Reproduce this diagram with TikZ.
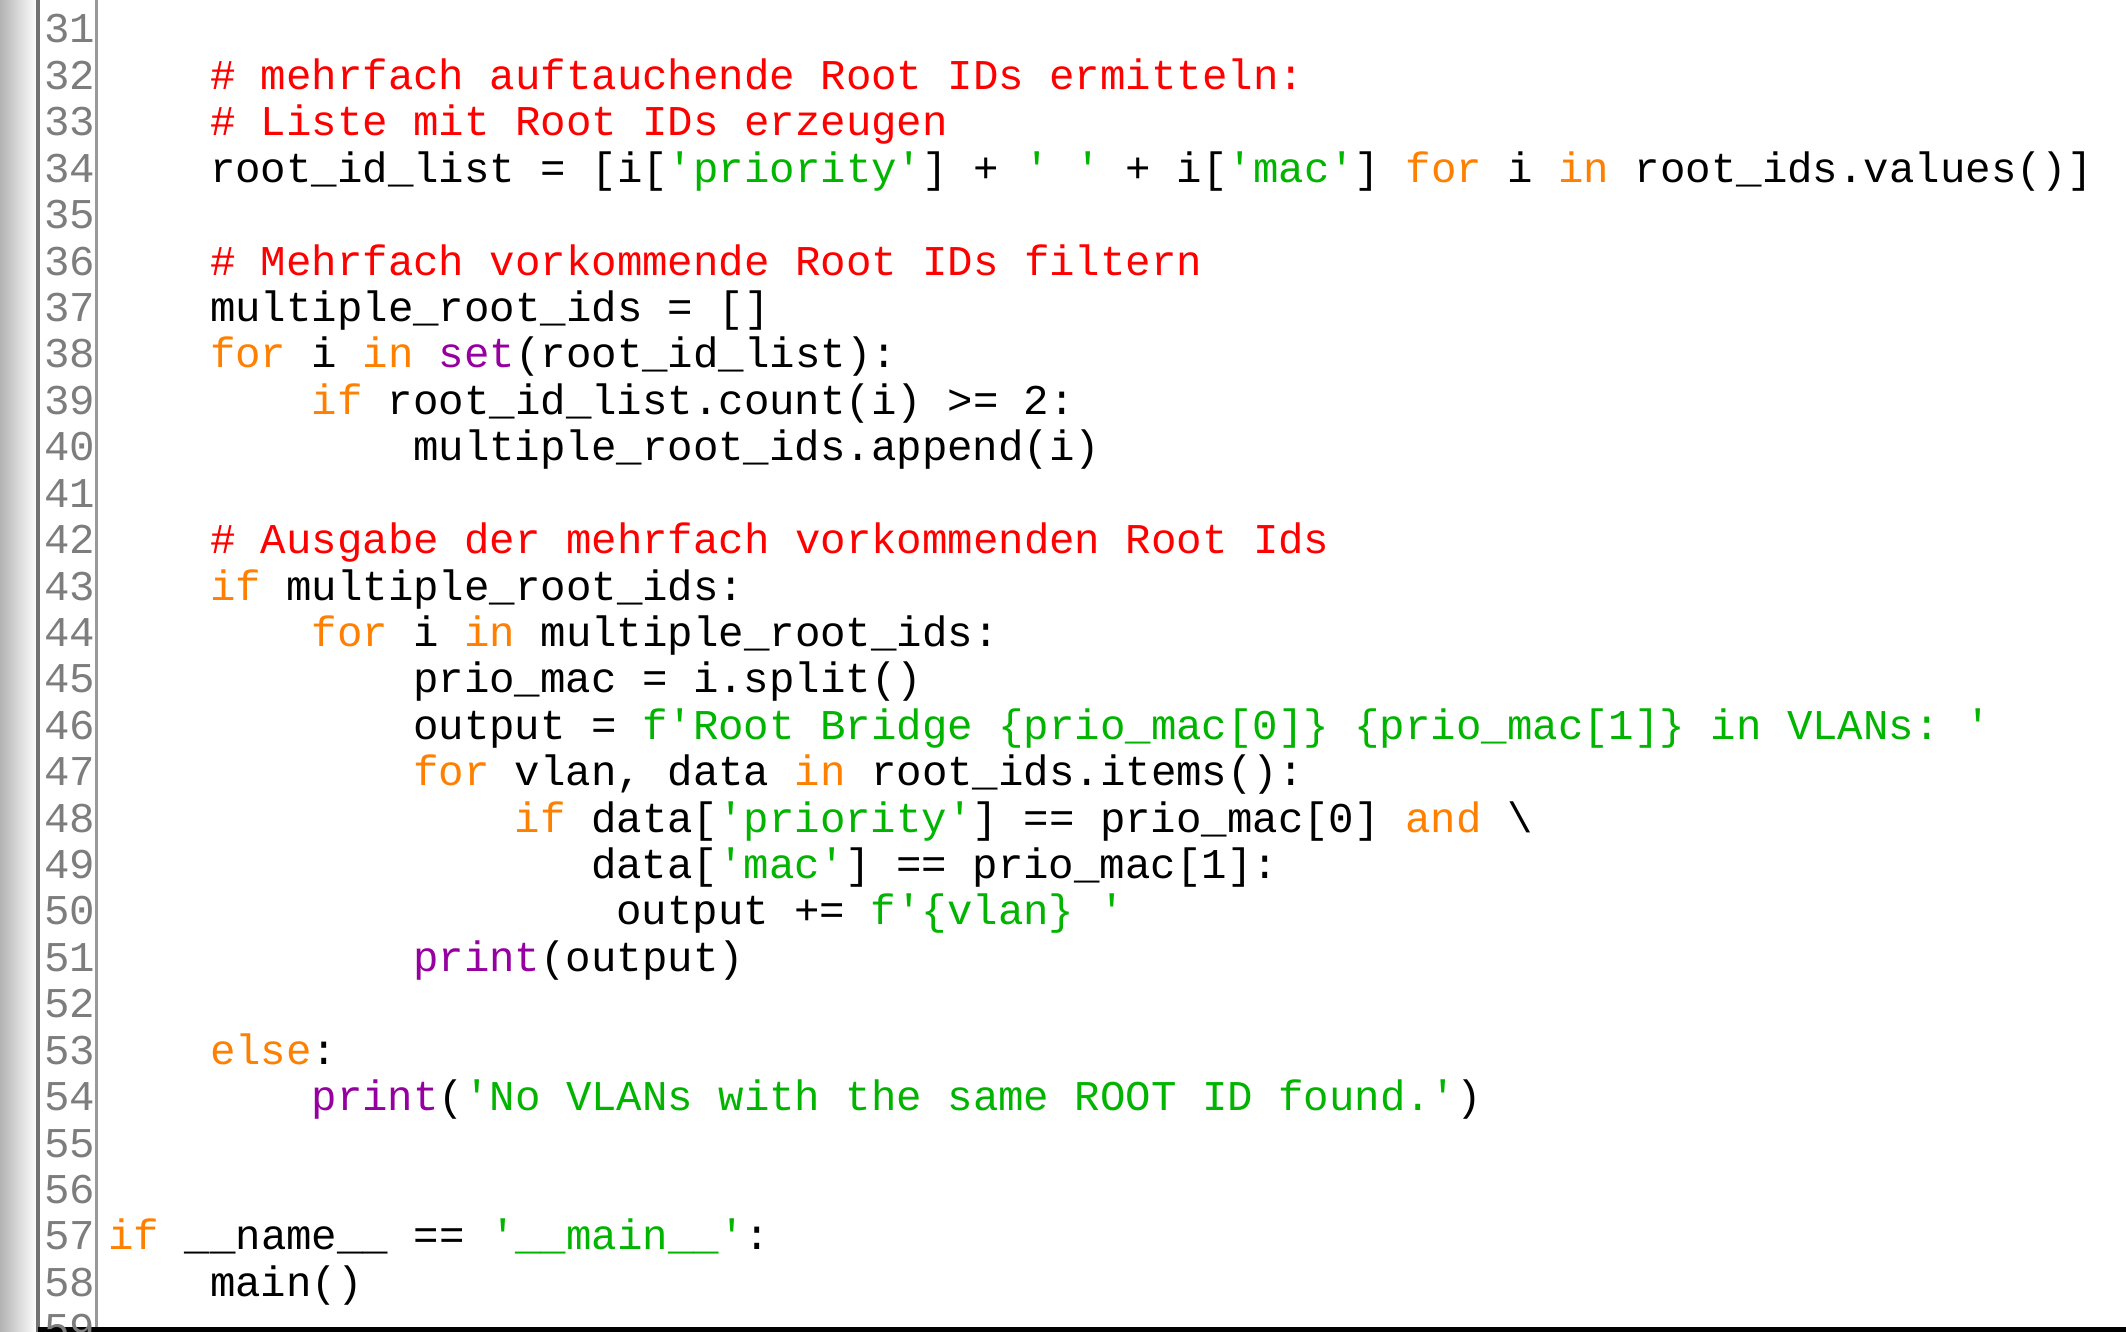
\documentclass[tikz,border=0pt]{standalone}
\usepackage{fontspec}
\setmonofont{Liberation Mono}
\usetikzlibrary{positioning}
\definecolor{cmtred}{RGB}{255,0,0}
\definecolor{kworange}{RGB}{255,128,0}
\definecolor{strgreen}{RGB}{0,180,0}
\definecolor{bipurple}{RGB}{150,0,160}
\definecolor{numgray}{RGB}{125,125,125}
\newcommand{\kw}[1]{\textcolor{kworange}{#1}}
\newcommand{\str}[1]{\textcolor{strgreen}{#1}}
\newcommand{\cmt}[1]{\textcolor{cmtred}{#1}}
\newcommand{\bi}[1]{\textcolor{bipurple}{#1}}
\tikzset{
  codeline/.style={
    inner sep=0pt, anchor=base west,
    font=\fontsize{21.2pt}{24pt}\ttfamily
  },
  linenum/.style={
    codeline, text=numgray
  }
}
% one column = 25.4px, one line = 46.42px
\newcommand{\cx}[1]{108+#1*25.4}
\newcommand{\ly}[1]{43+(#1-31)*46.42}

\begin{document}
\begin{tikzpicture}[x=0.5pt,y=-0.5pt]
  \useasboundingbox (0,0) rectangle (2126,1332);
  \fill[white] (0,0) rectangle (2126,1332);
  \shade[left color=black!30, right color=white] (0,0) rectangle (37,1332);
  \draw[black!55, line width=2] (38,0) -- (38,1332);
  \draw[black!40, line width=1.5] (96,0) -- (96,1332);
  \draw[black, line width=3] (38,1330) -- (2126,1330);
  % line numbers
  \foreach \n in {31,...,59}
    \node[linenum] (n\n) at (44,{\ly{\n}}) {\n};
  % code
  \node[codeline] (l32) at ({\cx{4}},{\ly{32}}) {\cmt{\# mehrfach auftauchende Root IDs ermitteln:}};
  \node[codeline] (l33) at ({\cx{4}},{\ly{33}}) {\cmt{\# Liste mit Root IDs erzeugen}};
  \node[codeline] (l34) at ({\cx{4}},{\ly{34}}) {root\_id\_list = [i[\str{'priority'}] + \str{' '} + i[\str{'mac'}] \kw{for} i \kw{in} root\_ids.values()]};
  \node[codeline] (l36) at ({\cx{4}},{\ly{36}}) {\cmt{\# Mehrfach vorkommende Root IDs filtern}};
  \node[codeline] (l37) at ({\cx{4}},{\ly{37}}) {multiple\_root\_ids = []};
  \node[codeline] (l38) at ({\cx{4}},{\ly{38}}) {\kw{for} i \kw{in} \bi{set}(root\_id\_list):};
  \node[codeline] (l39) at ({\cx{8}},{\ly{39}}) {\kw{if} root\_id\_list.count(i) >= 2:};
  \node[codeline] (l40) at ({\cx{12}},{\ly{40}}) {multiple\_root\_ids.append(i)};
  \node[codeline] (l42) at ({\cx{4}},{\ly{42}}) {\cmt{\# Ausgabe der mehrfach vorkommenden Root Ids}};
  \node[codeline] (l43) at ({\cx{4}},{\ly{43}}) {\kw{if} multiple\_root\_ids:};
  \node[codeline] (l44) at ({\cx{8}},{\ly{44}}) {\kw{for} i \kw{in} multiple\_root\_ids:};
  \node[codeline] (l45) at ({\cx{12}},{\ly{45}}) {prio\_mac = i.split()};
  \node[codeline] (l46) at ({\cx{12}},{\ly{46}}) {output = \str{f'Root Bridge \{prio\_mac[0]\} \{prio\_mac[1]\} in VLANs: '}};
  \node[codeline] (l47) at ({\cx{12}},{\ly{47}}) {\kw{for} vlan, data \kw{in} root\_ids.items():};
  \node[codeline] (l48) at ({\cx{16}},{\ly{48}}) {\kw{if} data[\str{'priority'}] == prio\_mac[0] \kw{and} \textbackslash};
  \node[codeline] (l49) at ({\cx{19}},{\ly{49}}) {data[\str{'mac'}] == prio\_mac[1]:};
  \node[codeline] (l50) at ({\cx{20}},{\ly{50}}) {output += \str{f'\{vlan\} '}};
  \node[codeline] (l51) at ({\cx{12}},{\ly{51}}) {\bi{print}(output)};
  \node[codeline] (l53) at ({\cx{4}},{\ly{53}}) {\kw{else}:};
  \node[codeline] (l54) at ({\cx{8}},{\ly{54}}) {\bi{print}(\str{'No VLANs with the same ROOT ID found.'})};
  \node[codeline] (l57) at ({\cx{0}},{\ly{57}}) {\kw{if} \_\_name\_\_ == \str{'\_\_main\_\_'}:};
  \node[codeline] (l58) at ({\cx{4}},{\ly{58}}) {main()};
\end{tikzpicture}
\end{document}
